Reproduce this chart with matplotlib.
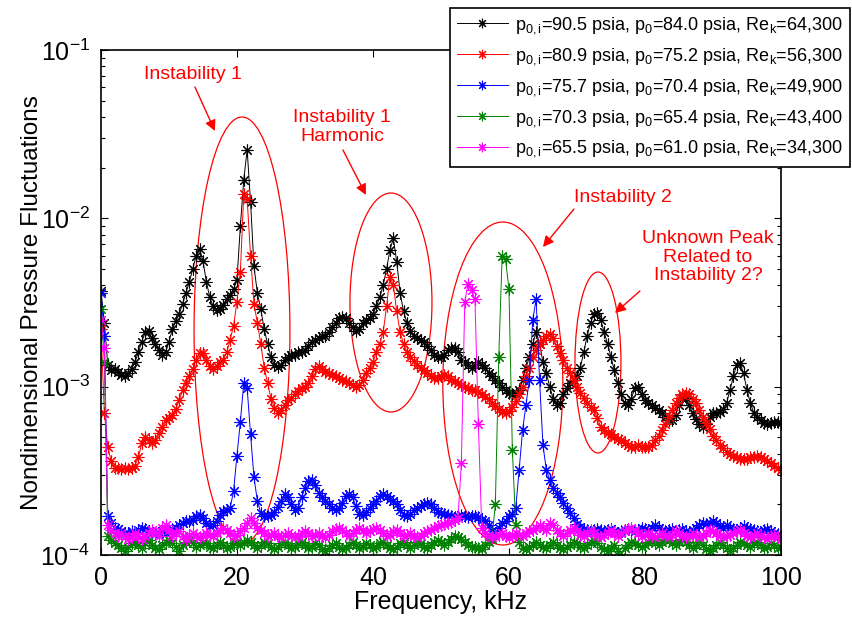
import numpy as np
import matplotlib
matplotlib.use('Agg')
import matplotlib.pyplot as plt
from matplotlib.patches import Ellipse

plt.rcParams['font.family'] = ['Liberation Sans', 'DejaVu Sans']
plt.rcParams['mathtext.fontset'] = 'custom'
plt.rcParams['mathtext.rm'] = 'Liberation Sans'
plt.rcParams['mathtext.it'] = 'Liberation Sans:italic'
plt.rcParams['mathtext.bf'] = 'Liberation Sans:bold'

# frequency grid, kHz
freq = np.arange(0, 100.25, 0.5)

# spectra, in units of 1e-4
black = [
    37, 24, 13.5, 12.5, 12.8, 12.2, 11.8, 11.6, 12.0, 12.8,
    14, 16, 18.5, 21, 21.5, 19.5, 18, 16.5, 15.5, 16,
    18.5, 22, 24.5, 27, 31, 36, 42, 50, 60, 66,
    56, 42, 34, 30, 28.5, 29, 30.5, 33, 35, 38,
    43, 90, 170, 255, 125, 52, 36, 29, 22, 18,
    15, 13.5, 13.1, 13.5, 14.5, 15, 15.5, 15.5, 16, 16,
    16.5, 17.5, 18.5, 19, 19.5, 20, 20, 21, 22.5, 24,
    25.5, 26, 25.5, 24, 22.5, 21.5, 22, 24, 25, 25.5,
    27, 30, 34, 40, 50, 65, 76, 55, 36, 28,
    24, 21.5, 20, 19.5, 19, 18.5, 17.5, 16.5, 15.5, 15,
    15, 15.5, 16.5, 17, 17, 16, 14.5, 14, 13.5, 13,
    13.5, 14, 13.5, 13, 12, 11.5, 11, 10.5, 10, 9.5,
    9.2, 9, 9, 9.5, 11, 13, 15, 18, 21, 18,
    14, 12, 10, 8.5, 7.8, 8, 9, 9.8, 10.5, 11,
    11.5, 13, 16, 20, 24, 27, 27.5, 25, 21, 18,
    15, 12.5, 10.5, 9, 8, 7.8, 8.5, 9.8, 10, 9,
    8.3, 8, 7.8, 7.5, 7.3, 7, 6.6, 6.3, 6.3, 6.8,
    7.8, 8.6, 8.6, 7.8, 7, 6.4, 6, 5.8, 6, 6.6,
    7, 7, 7.1, 7.4, 8, 9.5, 11.5, 13.5, 13.8, 12,
    9.6, 8, 7, 6.6, 6.3, 6.1, 6, 6.1, 6.2, 6.2,
    6.1]

red = [
    22, 7, 4.4, 3.6, 3.3, 3.3, 3.25, 3.3, 3.25, 3.3,
    3.4, 3.8, 4.6, 5, 4.8, 4.6, 4.8, 5.3, 5.8, 6.3,
    6.5, 6.8, 7.4, 8.3, 9.5, 10.5, 11.5, 12.8, 14.5, 15.8,
    15.8, 14.5, 13.2, 12.8, 13.3, 14, 14.5, 16, 19, 23,
    32, 48, 140, 130, 60, 31, 24, 18, 13, 10.5,
    8.5, 7.5, 7, 7.3, 7.8, 8.3, 8.6, 9, 9.4, 9.8,
    10, 10.5, 11.5, 12.8, 13.2, 12.8, 12.2, 12, 11.8, 11.5,
    11.2, 11, 10.8, 10.5, 10.2, 10, 10.2, 11, 12, 13,
    14, 16, 18, 21, 30, 45, 40, 28, 21, 18,
    16, 15, 14.2, 13.5, 13, 12.5, 12, 11.5, 11.2, 11.3,
    11.5, 11.8, 11.5, 11, 10.8, 10.5, 10.2, 10, 9.8, 9.6,
    9.5, 9.3, 9, 8.7, 8.4, 8, 7.7, 7.4, 7.1, 7,
    7.2, 7.6, 8.2, 9, 10, 11.5, 13, 15, 16.5, 18,
    19, 20, 20.5, 19.5, 17.5, 15.8, 14.5, 13, 12, 11,
    10, 9.2, 8.6, 8, 7.6, 7.3, 6.5, 5.8, 5.5, 5.3,
    5.2, 5, 4.9, 4.8, 4.6, 4.5, 4.4, 4.4, 4.5, 4.4,
    4.4, 4.4, 4.5, 4.8, 5.1, 5.5, 6, 6.6, 7.3, 8,
    8.6, 9, 9.2, 9, 8.5, 8, 7.3, 6.6, 6.1, 5.6,
    5.1, 4.8, 4.5, 4.3, 4.1, 4, 3.9, 3.8, 3.7, 3.7,
    3.7, 3.8, 3.8, 3.85, 3.8, 3.7, 3.6, 3.5, 3.4, 3.3,
    3.2]

blue = [
    36, 20, 1.7, 1.55, 1.45, 1.42, 1.38, 1.35, 1.36, 1.38,
    1.35, 1.4, 1.45, 1.42, 1.38, 1.35, 1.33, 1.35, 1.38, 1.35,
    1.38, 1.42, 1.45, 1.5, 1.55, 1.6, 1.6, 1.62, 1.7, 1.72,
    1.65, 1.55, 1.48, 1.5, 1.6, 1.72, 1.82, 1.85, 1.9, 2.4,
    3.9, 6.2, 10.5, 9.8, 5.2, 2.9, 2.1, 1.78, 1.7, 1.7,
    1.72, 1.8, 1.93, 2.1, 2.3, 2.2, 2.0, 1.85, 1.9, 2.2,
    2.5, 2.75, 2.8, 2.6, 2.35, 2.2, 2.1, 2.0, 1.9, 1.85,
    1.9, 2.05, 2.25, 2.3, 2.2, 1.95, 1.75, 1.72, 1.8, 1.9,
    2.0, 2.1, 2.25, 2.3, 2.25, 2.15, 2.1, 2.0, 1.85, 1.72,
    1.7, 1.75, 1.85, 1.9, 1.95, 2.0, 2.05, 2.0, 1.9, 1.8,
    1.78, 1.75, 1.72, 1.7, 1.68, 1.7, 1.72, 1.7, 1.68, 1.7,
    1.7, 1.68, 1.62, 1.6, 1.5, 1.38, 1.35, 1.45, 1.55, 1.6,
    1.7, 1.75, 1.9, 3.2, 5.5, 7.8, 11, 25, 33, 11,
    4.5, 3.2, 2.8, 2.5, 2.35, 2.2, 2.05, 1.9, 1.78, 1.65,
    1.52, 1.47, 1.42, 1.4, 1.38, 1.4, 1.42, 1.4, 1.38, 1.4,
    1.42, 1.38, 1.35, 1.38, 1.4, 1.42, 1.4, 1.38, 1.4, 1.45,
    1.42, 1.4, 1.45, 1.5, 1.45, 1.4, 1.38, 1.4, 1.42, 1.38,
    1.4, 1.42, 1.38, 1.36, 1.4, 1.45, 1.5, 1.55, 1.52, 1.55,
    1.6, 1.55, 1.48, 1.45, 1.5, 1.45, 1.42, 1.4, 1.45, 1.48,
    1.45, 1.42, 1.4, 1.38, 1.35, 1.4, 1.42, 1.38, 1.35, 1.33,
    1.3]

green = [
    29, 14, 1.3, 1.22, 1.18, 1.15, 1.1, 1.05, 1.12, 1.18,
    1.2, 1.15, 1.1, 1.18, 1.22, 1.15, 1.1, 1.08, 1.15, 1.2,
    1.22, 1.18, 1.12, 1.05, 1.15, 1.2, 1.22, 1.18, 1.12, 1.15,
    1.2, 1.18, 1.12, 1.1, 1.15, 1.2, 1.15, 1.1, 1.12, 1.18,
    1.2, 1.15, 1.18, 1.22, 1.2, 1.15, 1.1, 1.15, 1.2, 1.18,
    1.12, 1.08, 1.12, 1.18, 1.2, 1.15, 1.1, 1.12, 1.18, 1.2,
    1.15, 1.1, 1.12, 1.18, 1.15, 1.08, 1.05, 1.1, 1.15, 1.18,
    1.12, 1.08, 1.1, 1.15, 1.2, 1.15, 1.1, 1.12, 1.18, 1.15,
    1.1, 1.12, 1.18, 1.2, 1.15, 1.1, 1.08, 1.12, 1.18, 1.2,
    1.15, 1.1, 1.15, 1.2, 1.18, 1.12, 1.1, 1.15, 1.2, 1.22,
    1.2, 1.15, 1.2, 1.25, 1.3, 1.28, 1.25, 1.2, 1.15, 1.12,
    1.12, 1.1, 1.08, 1.15, 1.2, 1.25, 2.0, 15, 60, 57,
    38, 4.2, 1.5, 1.2, 1.1, 1.08, 1.12, 1.15, 1.2, 1.15,
    1.12, 1.1, 1.15, 1.2, 1.15, 1.1, 1.08, 1.12, 1.15, 1.2,
    1.18, 1.12, 1.1, 1.15, 1.2, 1.22, 1.18, 1.12, 1.08, 1.05,
    1.1, 1.15, 1.05, 0.98, 1.1, 1.15, 1.2, 1.18, 1.15, 1.12,
    1.15, 1.2, 1.22, 1.18, 1.15, 1.2, 1.25, 1.22, 1.18, 1.15,
    1.2, 1.25, 1.2, 1.15, 1.1, 1.15, 1.2, 1.15, 1.08, 1.05,
    1.1, 1.15, 1.2, 1.15, 1.1, 1.05, 1.1, 1.15, 1.2, 1.18,
    1.15, 1.12, 1.18, 1.2, 1.15, 1.1, 1.12, 1.18, 1.15, 1.1,
    1.12]

magenta = [
    25, 17, 1.5, 1.4, 1.35, 1.3, 1.35, 1.3, 1.25, 1.3,
    1.35, 1.3, 1.25, 1.3, 1.35, 1.4, 1.35, 1.3, 1.45, 1.5,
    1.4, 1.3, 1.35, 1.38, 1.3, 1.25, 1.3, 1.35, 1.3, 1.28,
    1.3, 1.35, 1.32, 1.3, 1.35, 1.4, 1.45, 1.4, 1.35, 1.3,
    1.32, 1.38, 1.45, 1.55, 1.65, 1.55, 1.45, 1.4, 1.35, 1.3,
    1.32, 1.35, 1.3, 1.28, 1.32, 1.35, 1.3, 1.28, 1.3, 1.35,
    1.38, 1.35, 1.3, 1.32, 1.35, 1.3, 1.28, 1.32, 1.38, 1.42,
    1.45, 1.4, 1.35, 1.3, 1.35, 1.4, 1.45, 1.4, 1.35, 1.38,
    1.42, 1.45, 1.4, 1.35, 1.3, 1.32, 1.38, 1.4, 1.35, 1.3,
    1.32, 1.35, 1.3, 1.28, 1.3, 1.35, 1.38, 1.4, 1.45, 1.48,
    1.5, 1.52, 1.55, 1.58, 1.62, 1.65, 3.5, 32, 41, 37.5,
    33, 6, 1.45, 1.35, 1.3, 1.28, 1.3, 1.32, 1.35, 1.3,
    1.28, 1.3, 1.35, 1.32, 1.3, 1.35, 1.38, 1.4, 1.45, 1.5,
    1.45, 1.4, 1.55, 1.5, 1.4, 1.35, 1.3, 1.35, 1.4, 1.45,
    1.38, 1.32, 1.3, 1.35, 1.4, 1.35, 1.3, 1.28, 1.32, 1.35,
    1.4, 1.35, 1.3, 1.35, 1.38, 1.42, 1.45, 1.4, 1.35, 1.3,
    1.32, 1.35, 1.3, 1.28, 1.32, 1.35, 1.3, 1.28, 1.32, 1.38,
    1.35, 1.3, 1.28, 1.3, 1.35, 1.32, 1.28, 1.3, 1.35, 1.4,
    1.38, 1.35, 1.3, 1.28, 1.3, 1.32, 1.35, 1.38, 1.4, 1.35,
    1.3, 1.28, 1.32, 1.35, 1.3, 1.28, 1.25, 1.3, 1.32, 1.28,
    1.25]

labels = [
    r'p$_{\mathrm{0,i}}$=90.5 psia, p$_{\mathrm{0}}$=84.0 psia, Re$_{\mathrm{k}}$=64,300',
    r'p$_{\mathrm{0,i}}$=80.9 psia, p$_{\mathrm{0}}$=75.2 psia, Re$_{\mathrm{k}}$=56,300',
    r'p$_{\mathrm{0,i}}$=75.7 psia, p$_{\mathrm{0}}$=70.4 psia, Re$_{\mathrm{k}}$=49,900',
    r'p$_{\mathrm{0,i}}$=70.3 psia, p$_{\mathrm{0}}$=65.4 psia, Re$_{\mathrm{k}}$=43,400',
    r'p$_{\mathrm{0,i}}$=65.5 psia, p$_{\mathrm{0}}$=61.0 psia, Re$_{\mathrm{k}}$=34,300',
]
colors = ['k', '#ff0000', '#0000ff', (0, 0.5, 0), '#ff00ff']

fig = plt.figure(figsize=(8.52, 6.18), dpi=100)
ax = fig.add_axes([0.1185, 0.1019, 0.7981, 0.8172])

for vals, c, lab in zip([black, red, blue, green, magenta], colors, labels):
    ax.semilogy(freq, np.array(vals) * 1e-4, color=c, lw=0.7,
                marker=(8, 2, 0), ms=8.5, mew=0.8, label=lab)

ax.set_xlim(0, 100)
ax.set_ylim(1e-4, 1e-1)
ax.set_xticks([0, 20, 40, 60, 80, 100])
ax.tick_params(which='both', direction='in', top=True, right=True,
               labelsize=18, width=0.8)
ax.tick_params(which='major', length=5, pad=8)
ax.tick_params(which='minor', length=3)
for s in ax.spines.values():
    s.set_linewidth(1.2)
ax.set_xlabel('Frequency, kHz', fontsize=18, labelpad=0)
ax.set_ylabel('Nondimensional Pressure Fluctuations', fontsize=17.5, labelpad=-2)

# circled regions (axes fraction so they stay true ellipses on the log axis)
ellipses = [(0.2074, 0.4446, 0.141, 0.8455),
            (0.4265, 0.5000, 0.1206, 0.4337),
            (0.5910, 0.3396, 0.1765, 0.6396),
            (0.7309, 0.3812, 0.0676, 0.3584)]
for cx, cy, w, h in ellipses:
    ax.add_patch(Ellipse((cx, cy), w, h, transform=ax.transAxes,
                         fill=False, ec='r', lw=0.9))

notes = [('Instability 1', (0.1353, 0.9505), (0.1382, 0.9267), (0.1676, 0.8396)),
         ('Instability 1\nHarmonic', (0.3544, 0.8475), (0.3559, 0.802), (0.3897, 0.7129)),
         ('Instability 2', (0.7676, 0.7089), (0.6956, 0.6851), (0.65, 0.6099)),
         ('Unknown Peak\nRelated to\nInstability 2?', (0.8926, 0.5901), (0.7926, 0.5228), (0.7559, 0.4792))]
for txt, pos, a0, a1 in notes:
    ax.text(pos[0], pos[1], txt, transform=ax.transAxes, color='r',
            fontsize=14, ha='center', va='center', linespacing=1.1)
    ax.annotate('', xy=a1, xytext=a0, xycoords='axes fraction',
                arrowprops=dict(arrowstyle='-|>', color='r', lw=1,
                                mutation_scale=16, shrinkA=0, shrinkB=0))

leg = ax.legend(loc='upper right', bbox_to_anchor=(0.9977, 0.987),
                bbox_transform=fig.transFigure, fontsize=13, numpoints=1,
                fancybox=False, edgecolor='k', framealpha=1,
                handlelength=2.8, borderaxespad=0, labelspacing=0.55,
                borderpad=0.4, handletextpad=0.4, markerscale=0.8)
leg.get_frame().set_linewidth(1.2)

fig.savefig('out.png', dpi=100)
